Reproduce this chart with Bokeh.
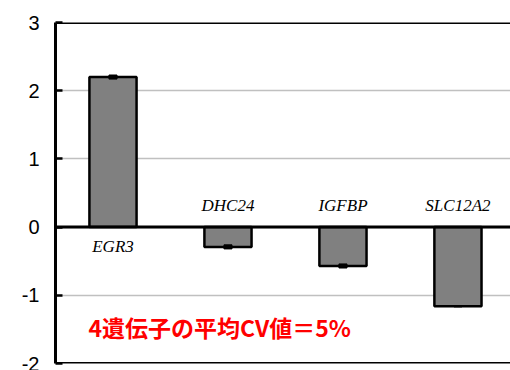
from bokeh.plotting import figure
from bokeh.models import Range1d, FixedTicker, Span, ColumnDataSource
from bokeh.core.properties import value
from bokeh.embed import file_html
from bokeh.resources import INLINE

# Expression change per gene with error
genes = ["EGR3", "DHC24", "IGFBP", "SLC12A2"]
expr = [2.20, -0.29, -0.57, -1.16]
err = [0.03, 0.03, 0.03, 0.01]
y_ticks = [-2, -1, 0, 1, 2, 3]
y_tick_labels = ["-2", "-1", "0", "1", "2", "3"]
note = "4遺伝子の平均CV値＝5%"

xs = list(range(1, len(genes) + 1))

p = figure(width=510, height=370, output_backend="svg", toolbar_location=None,
           x_range=Range1d(0.5, 4.457), y_range=Range1d(-2, 3),
           min_border_left=55, min_border_right=0, min_border_top=22, min_border_bottom=7)
p.outline_line_color = None
p.background_fill_color = "white"
p.border_fill_color = "white"

p.xaxis.visible = False
p.xgrid.grid_line_color = None
p.ygrid.ticker = FixedTicker(ticks=y_ticks)
p.ygrid.grid_line_color = "#c0c0c0"
p.ygrid.grid_line_width = 1.5

ax = p.yaxis[0]
ax.ticker = FixedTicker(ticks=y_ticks)
ax.major_label_overrides = {t: s for t, s in zip(y_ticks, y_tick_labels)}
ax.major_label_text_font = "Liberation Sans"
ax.major_label_text_font_size = "20px"
ax.major_label_text_color = "black"
ax.major_label_standoff = 16
ax.major_tick_in = 7
ax.major_tick_out = 0
ax.major_tick_line_width = 2.5
ax.minor_tick_line_color = None
ax.axis_line_width = 3
ax.axis_line_color = "black"

src = ColumnDataSource(dict(
    x=xs, top=expr,
    lo=[v - e for v, e in zip(expr, err)],
    hi=[v + e for v, e in zip(expr, err)],
    ly=[-0.29 if v > 0 else 0.31 for v in expr],
    name=genes,
))

p.vbar(x="x", top="top", bottom=0, width=0.41, source=src,
       fill_color="#808080", line_color="black", line_width=2.5)
p.vbar(x="x", top="hi", bottom="lo", width=0.07, source=src,
       fill_color="black", line_color="black", line_width=1)

# frame lines and zero line
for yv in (3, 0, -2):
    p.add_layout(Span(location=yv, dimension="width", line_color="black", line_width=3))

p.text(x="x", y="ly", text="name", source=src,
       text_font=value("Liberation Serif"), text_font_style="italic",
       text_font_size="17px", text_color="black",
       text_align="center", text_baseline="middle")

p.text(x=[0.787], y=[-1.46], text=[note],
       text_font=value("Noto Sans CJK JP"), text_font_style="bold",
       text_font_size="23px", text_color="#ff0000",
       text_align="left", text_baseline="middle")

open("out.html", "w").write(file_html(p, INLINE))
